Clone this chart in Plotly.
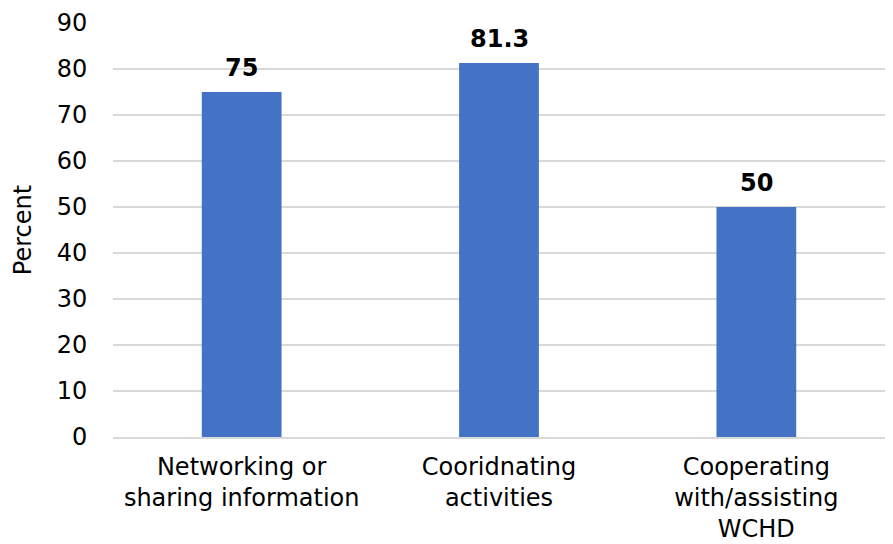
import plotly.graph_objects as go

categories = ["Networking or<br>sharing information", "Cooridnating<br>activities", "Cooperating<br>with/assisting<br>WCHD"]
values = [75, 81.3, 50]
value_labels = ["75", "81.3", "50"]
y_ticks = [0, 10, 20, 30, 40, 50, 60, 70, 80, 90]

font_family = "DejaVu Sans"
fs = 24

fig = go.Figure(go.Bar(
    x=categories, y=values,
    marker=dict(color="#4472C4", line=dict(width=0)),
    width=0.31, cliponaxis=False,
))

for c, v, t in zip(categories, values, value_labels):
    fig.add_annotation(x=c, y=v, text="<b>" + t + "</b>", showarrow=False,
                       yanchor="bottom", yshift=8,
                       font=dict(family=font_family, size=fs, color="#000000"))

fig.update_layout(
    width=893, height=544,
    margin=dict(l=113, r=8, t=23, b=107),
    plot_bgcolor="white", paper_bgcolor="white",
    font=dict(family=font_family, size=fs, color="#000000"),
    showlegend=False,
)
fig.update_yaxes(
    range=[0, 90], tickvals=y_ticks, showgrid=True, gridcolor="#d9d9d9", gridwidth=1.5,
    zeroline=False, showline=False, ticks="outside", ticklen=20, tickcolor="rgba(0,0,0,0)",
    title=dict(text="Percent", font=dict(size=fs), standoff=18),
    tickfont=dict(size=fs), automargin=False,
)
fig.update_xaxes(
    showline=True, linecolor="#d9d9d9", linewidth=1.5, ticks="outside", ticklen=7,
    tickcolor="rgba(0,0,0,0)",
    tickfont=dict(size=fs), automargin=False,
)

fig.write_html("out.html", config={"displayModeBar": False},
               post_script="document.body.style.margin='0';document.body.style.overflow='hidden';")
